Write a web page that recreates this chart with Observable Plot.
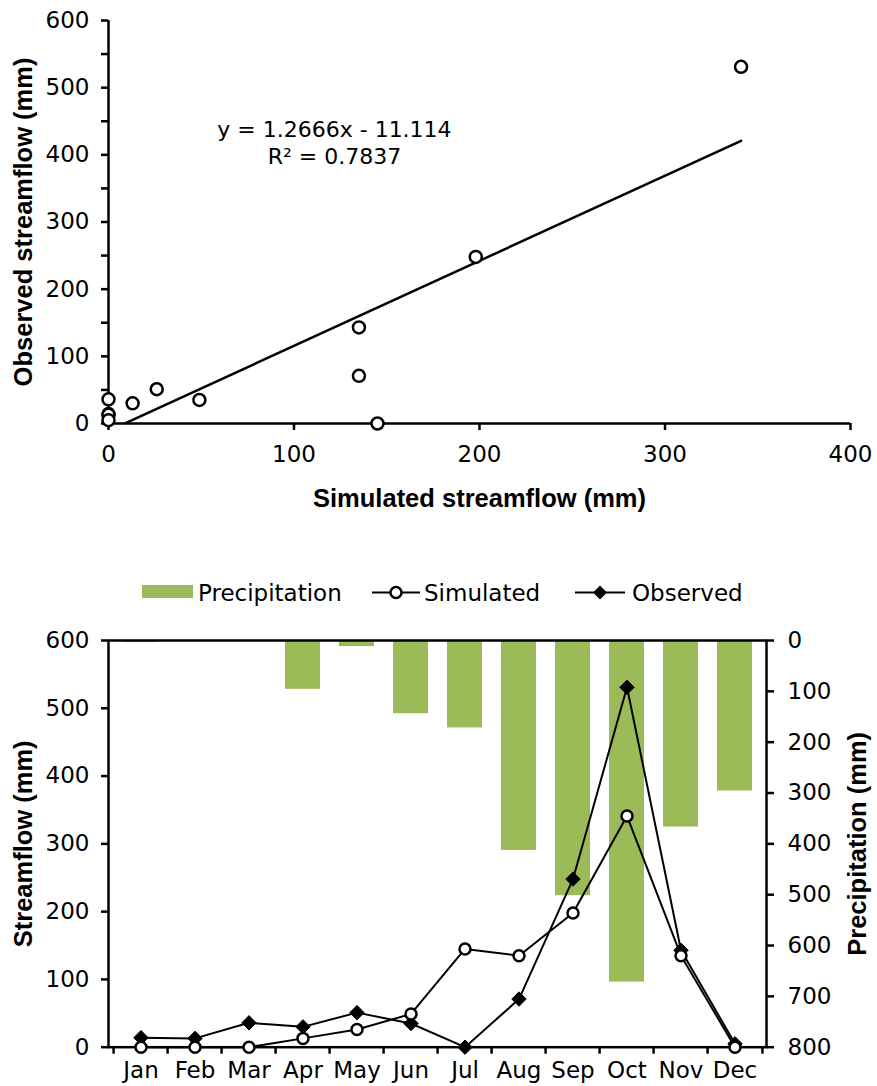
<!DOCTYPE html>
<html>
<head>
<meta charset="utf-8">
<script src="https://cdn.jsdelivr.net/npm/d3@7"></script>
<script src="https://cdn.jsdelivr.net/npm/@observablehq/plot@0.6"></script>
<style>
  body { margin: 0; background: #fff; font-family: "DejaVu Sans", sans-serif; }
  #page { position: relative; width: 877px; height: 1086px; overflow: hidden; background: #fff; }
  #top { position: absolute; left: 0; top: 0; }
  #legend { position: absolute; left: 0; top: 570px; }
  #bottom { position: absolute; left: 0; top: 620px; }
</style>
</head>
<body>
<div id="page">
  <div id="top"></div>
  <div id="legend"></div>
  <div id="bottom"></div>
</div>
<script>
// ---- data ----
const months = ["Jan", "Feb", "Mar", "Apr", "May", "Jun", "Jul", "Aug", "Sep", "Oct", "Nov", "Dec"];
const precipitation = [4, 2, 2, 96, 12, 144, 172, 413, 502, 672, 367, 296];   // mm (right axis, reversed)
const simulated = [0, 0, 0, 13, 26, 49, 145, 135, 198, 341, 135, 0];          // mm
const observed = [14, 13, 36, 30, 51, 35, 0, 71, 248, 531, 143, 5];            // mm
const seriesNames = ["Precipitation", "Simulated", "Observed"];

const slope = 1.2666;
const intercept = -11.114;
const rSquared = 0.7837;

const scatterXTicks = [0, 100, 200, 300, 400];
const scatterYTicks = [0, 50, 100, 150, 200, 250, 300, 350, 400, 450, 500, 550, 600];
const flowTicks = [0, 100, 200, 300, 400, 500, 600];
const precipTicks = [0, 100, 200, 300, 400, 500, 600, 700, 800];

const FONT = "'DejaVu Sans', sans-serif";
const BOLD_FONT = "'Liberation Sans', Arial, sans-serif";
const green = "#9BBB59";

// ---- top: scatter with trend line ----
const pairs = months.map((m, i) => ({month: m, sim: simulated[i], obs: observed[i]}));
const fitLine = d3.extent(simulated).map(x => ({x, y: slope * x + intercept}));
const eqText = `y = ${slope}x - ${Math.abs(intercept)}\nR² = ${rSquared}`;

const topChart = Plot.plot({
  width: 877,
  height: 530,
  marginLeft: 108,
  marginRight: 27,
  marginTop: 20,
  marginBottom: 107,
  style: {fontFamily: FONT, fontSize: "23px", color: "#000", background: "#fff", overflow: "visible"},
  x: {domain: [0, 400]},
  y: {domain: [0, 600]},
  marks: [
    Plot.axisX({ticks: scatterXTicks, tickSize: 7, tickPadding: 15, strokeWidth: 2.5, fontSize: 23, label: null}),
    Plot.axisY({ticks: scatterYTicks, tickSize: 7, tickPadding: 12, strokeWidth: 2.5, fontSize: 23,
                tickFormat: d => (d % 100 === 0 ? String(d) : ""), label: null}),
    Plot.ruleY([0], {strokeWidth: 2.5}),
    Plot.ruleX([0], {strokeWidth: 2.5}),
    Plot.line(fitLine, {x: "x", y: "y", stroke: "black", strokeWidth: 2.5, clip: true}),
    Plot.dot(pairs, {x: "sim", y: "obs", r: 6, fill: "white", stroke: "black", strokeWidth: 2.5}),
    Plot.text([eqText], {x: 121.8, y: 419, text: d => d, fontSize: 22, lineHeight: 1.2, textAnchor: "middle", lineAnchor: "middle"}),
    Plot.text(["Observed streamflow (mm)"], {text: d => d, frameAnchor: "left", textAnchor: "middle", rotate: -90, dx: -85,
                fontWeight: "bold", fontSize: 25.5, fontFamily: BOLD_FONT}),
    Plot.text(["Simulated streamflow (mm)"], {text: d => d, frameAnchor: "bottom", textAnchor: "middle", dy: 83,
                fontWeight: "bold", fontSize: 25.5, fontFamily: BOLD_FONT})
  ]
});
document.getElementById("top").append(topChart);

// ---- legend ----
const legend = document.getElementById("legend");
legend.innerHTML = `
<svg width="877" height="48" font-family="DejaVu Sans, sans-serif" font-size="23">
  <rect x="142" y="15" width="51" height="13" fill="${green}"></rect>
  <text x="198" y="31">${seriesNames[0]}</text>
  <line x1="372" x2="420" y1="22.5" y2="22.5" stroke="black" stroke-width="2"></line>
  <circle cx="396" cy="22.5" r="5.5" fill="white" stroke="black" stroke-width="2.5"></circle>
  <text x="424" y="31">${seriesNames[1]}</text>
  <line x1="575" x2="625" y1="22.5" y2="22.5" stroke="black" stroke-width="2"></line>
  <path d="M600,15.5L607,22.5L600,29.5L593,22.5Z" fill="black"></path>
  <text x="632" y="31">${seriesNames[2]}</text>
</svg>`;

// ---- bottom: monthly bars + lines, dual axis ----
const rows = months.map((m, i) => ({month: m, precip: precipitation[i], sim: simulated[i], obs: observed[i]}));
const k = 600 / 800; // precipitation mm -> streamflow axis units (reversed)
const W = 877, ML = 108, MR = 111;
const step = (W - ML - MR) / months.length;

const bottomChart = Plot.plot({
  width: W,
  height: 466,
  marginLeft: ML,
  marginRight: MR,
  marginTop: 20,
  marginBottom: 39.3,
  style: {fontFamily: FONT, fontSize: "23px", color: "#000", background: "#fff", overflow: "visible"},
  x: {type: "band", domain: months, paddingInner: 0.36, paddingOuter: 0.18},
  y: {domain: [0, 600]},
  marks: [
    Plot.barY(rows, {x: "month", y1: 600, y2: d => 600 - d.precip * k, fill: green}),
    Plot.frame({stroke: "black", strokeWidth: 2.5}),
    Plot.axisY({ticks: flowTicks, tickSize: 7, tickPadding: 12, strokeWidth: 2.5, fontSize: 23, label: null}),
    Plot.axisY(precipTicks.map(p => 600 - p * k), {anchor: "right", tickSize: 7, tickPadding: 14, strokeWidth: 2.5, fontSize: 23,
                tickFormat: v => String(Math.round((600 - v) / k)), label: null}),
    Plot.axisX({ticks: months, tickSize: 7, tickFormat: () => "", strokeWidth: 2.5, dx: -step / 2, label: null}),
    Plot.axisX({ticks: months.slice(-1), tickSize: 7, tickFormat: () => "", strokeWidth: 2.5, dx: step / 2, label: null}),
    Plot.axisX({ticks: months, tickSize: 0, tickPadding: 14, fontSize: 23, label: null}),
    Plot.line(rows, {x: "month", y: "obs", stroke: "black", strokeWidth: 2}),
    Plot.line(rows, {x: "month", y: "sim", stroke: "black", strokeWidth: 2}),
    Plot.dot(rows, {x: "month", y: "obs", symbol: "diamond2", r: 6.5, fill: "black", stroke: "black", strokeWidth: 1}),
    Plot.dot(rows, {x: "month", y: "sim", r: 5.5, fill: "white", stroke: "black", strokeWidth: 2.5}),
    Plot.text(["Streamflow (mm)"], {text: d => d, frameAnchor: "left", textAnchor: "middle", rotate: -90, dx: -85,
                fontWeight: "bold", fontSize: 25.5, fontFamily: BOLD_FONT}),
    Plot.text(["Precipitation (mm)"], {text: d => d, frameAnchor: "right", textAnchor: "middle", rotate: -90, dx: 91,
                fontWeight: "bold", fontSize: 25.5, fontFamily: BOLD_FONT})
  ]
});
document.getElementById("bottom").append(bottomChart);
</script>
</body>
</html>
